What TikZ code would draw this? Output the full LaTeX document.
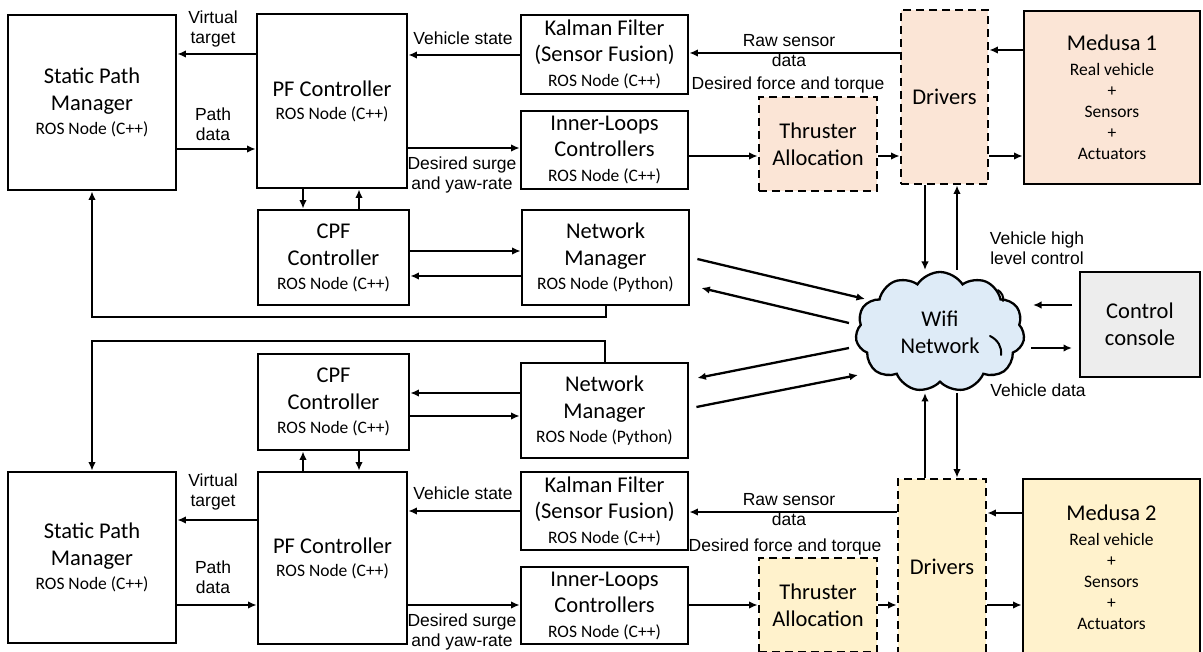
\documentclass[tikz,border=0pt]{standalone}
\usepackage{fontspec}
\setmainfont{Carlito}
\newfontfamily\labelfont{Liberation Sans}
\usetikzlibrary{arrows.meta,shapes.symbols,calc}

\definecolor{peach}{RGB}{251,229,214}
\definecolor{cream}{RGB}{255,242,204}
\definecolor{skyfill}{RGB}{222,235,247}
\definecolor{consolegrey}{RGB}{237,237,237}

% smaller second line inside the ROS boxes
\newcommand{\rosline}[1]{{\fontsize{17.5}{20}\selectfont #1}}

\tikzset{
  box/.style={draw, line width=2.8pt, align=center, inner sep=0pt,
              font=\fontsize{22.5}{27}\selectfont},
  sz/.style 2 args={minimum width=#1, minimum height=#2},
  dbox/.style={box, dash pattern=on 8pt off 5pt},
  arr/.style={line width=2.3pt, -{Latex[length=8.5pt,width=7.5pt]}},
  lab/.style={font=\labelfont\fontsize{17.5}{20}\selectfont, align=center, inner sep=0pt},
  puff/.style={line width=2pt, line cap=round},
}

\begin{document}
\begin{tikzpicture}[x=1pt,y=-1pt]
\useasboundingbox (0,0) rectangle (1203,652);
\clip (0,0) rectangle (1203,652);

% ---------------- vehicle 1 ----------------
\node[box, sz={168pt}{175pt}] (SPM1) at (92,102.5) {Static Path\\Manager\\[-3pt]\rosline{ROS Node (C++)}};
\node[box, sz={150pt}{174pt}] (PF1) at (332,101) {PF Controller\\[-4pt]\rosline{ROS Node (C++)}};
\node[box, sz={151pt}{95pt}] (CPF1) at (333.5,257.5) {CPF\\Controller\\[-3pt]\rosline{ROS Node (C++)}};
\node[box, sz={167pt}{79pt}] (Kal1) at (604.5,54.5) {Kalman Filter\\[-1pt](Sensor Fusion)\\[-2pt]\rosline{ROS Node (C++)}};
\node[box, sz={167pt}{78pt}] (IL1) at (604.5,150) {Inner-Loops\\[-1pt]Controllers\\[-2pt]\rosline{ROS Node (C++)}};
\node[box, sz={167pt}{95pt}] (NM1) at (605.5,257.5) {Network\\Manager\\[-3pt]\rosline{ROS Node (Python)}};
\node[dbox, fill=peach, sz={118pt}{94pt}] (TA1) at (818,144) {Thruster\\Allocation};
\node[dbox, fill=peach, sz={87pt}{174pt}] (Dr1) at (944.5,97) {Drivers};
\node[box, fill=peach, sz={176pt}{173pt}] (Med1) at (1112,97.5)
  {Medusa 1\\[-2pt]\rosline{Real vehicle}\\[-6pt]\rosline{+}\\[-6pt]\rosline{Sensors}\\[-6pt]\rosline{+}\\[-6pt]\rosline{Actuators}};

% ---------------- shared network ----------------
\node[cloud, draw, fill=skyfill, line width=2.3pt, cloud puffs=11, cloud puff arc=115, aspect=1.45,
      minimum width=169pt, minimum height=120pt, inner sep=0pt, align=center,
      font=\fontsize{22.5}{27}\selectfont] (wifi) at (940,332) {Wifi\\Network};
% inner crease lines of the cloud
\draw[puff] (990,336) .. controls (998,340) and (1002,347) .. (1001,355);
\draw[puff] (998,290) .. controls (1002,293) and (1004,297) .. (1003,301);
\node[box, fill=consolegrey, sz={120pt}{105pt}] (console) at (1140,324.5) {Control\\console};

% ---------------- vehicle 2 ----------------
\node[box, sz={151pt}{96pt}] (CPF2) at (333.5,402) {CPF\\Controller\\[-3pt]\rosline{ROS Node (C++)}};
\node[box, sz={167pt}{95pt}] (NM2) at (604.5,410.5) {Network\\Manager\\[-3pt]\rosline{ROS Node (Python)}};
\node[box, sz={168pt}{171pt}] (SPM2) at (92,557.5) {Static Path\\Manager\\[-3pt]\rosline{ROS Node (C++)}};
\node[box, sz={149pt}{172pt}] (PF2) at (332.5,558) {PF Controller\\[-4pt]\rosline{ROS Node (C++)}};
\node[box, sz={167pt}{78pt}] (Kal2) at (604.5,511) {Kalman Filter\\[-1pt](Sensor Fusion)\\[-2pt]\rosline{ROS Node (C++)}};
\node[box, sz={167pt}{77pt}] (IL2) at (604.5,605.5) {Inner-Loops\\[-1pt]Controllers\\[-2pt]\rosline{ROS Node (C++)}};
\node[dbox, fill=cream, sz={118pt}{94pt}] (TA2) at (818,605) {Thruster\\Allocation};
\node[dbox, fill=cream, sz={88pt}{176pt}] (Dr2) at (942,567) {Drivers};
\node[box, fill=cream, sz={177pt}{177pt}] (Med2) at (1111.5,567.5)
  {Medusa 2\\[-2pt]\rosline{Real vehicle}\\[-6pt]\rosline{+}\\[-6pt]\rosline{Sensors}\\[-6pt]\rosline{+}\\[-6pt]\rosline{Actuators}};

% ---------------- free ends around the cloud ----------------
\coordinate (c1in)  at (865,299);
\coordinate (c1out) at (849,323);
\coordinate (c2out) at (849,348);
\coordinate (c2in)  at (858,375);
\coordinate (n1out) at ($(NM1.east)+(7,1.5)$);
\coordinate (n1in)  at ($(NM1.east)+(11,30.5)$);
\coordinate (n2in)  at ($(NM2.east)+(8,-32.5)$);
\coordinate (n2out) at ($(NM2.east)+(7,-3.5)$);
\coordinate (wtA) at (925,270);
\coordinate (wtB) at (957,270);
\coordinate (wbA) at (925,393);
\coordinate (wbB) at (957,393);
\coordinate (kIn)  at (1072,305);
\coordinate (kTip) at (1033,305);
\coordinate (kOut) at (1031,348);
\coordinate (kEnd) at (1072,348);

% ---------------- connectors, vehicle 1 ----------------
\draw[arr] (PF1.west |- 0,54) -- (SPM1.east |- 0,54);
\draw[arr] (SPM1.east |- 0,149) -- (PF1.west |- 0,149);
\draw[arr] (Kal1.west |- 0,55) -- (PF1.east |- 0,55);
\draw[arr] (PF1.east |- 0,148) -- (IL1.west |- 0,148);
\draw[arr] (IL1.east |- 0,156) -- (TA1.west |- 0,156);
\draw[arr] (TA1.east |- 0,156) -- (Dr1.west |- 0,156);
\draw[arr] (Dr1.west |- 0,53) -- (Kal1.east |- 0,53);
\draw[arr] (Med1.west |- 0,50) -- (Dr1.east |- 0,50);
\draw[arr] (Dr1.east |- 0,156) -- (Med1.west |- 0,156);
\draw[arr] (PF1.south -| 303,0) -- (CPF1.north -| 303,0);
\draw[arr] (CPF1.north -| 359,0) -- (PF1.south -| 359,0);
\draw[arr] (CPF1.east |- 0,251) -- (NM1.west |- 0,251);
\draw[arr] (NM1.west |- 0,276) -- (CPF1.east |- 0,276);
\draw[arr] (NM1.south -| 606,0) -- ++(0,10.6) -| (SPM1.south);

% ---------------- connectors, network ----------------
\draw[arr] (n1out) -- (c1in);
\draw[arr] (c1out) -- (n1in);
\draw[arr] (c2out) -- (n2in);
\draw[arr] (n2out) -- (c2in);
\draw[arr] (Dr1.south -| wtA) -- (wtA);
\draw[arr] (wtB) -- (Dr1.south -| wtB);
\draw[arr] (Dr2.north -| wbA) -- (wbA);
\draw[arr] (wbB) -- (Dr2.north -| wbB);
\draw[arr] (kIn) -- (kTip);
\draw[arr] (kOut) -- (kEnd);

% ---------------- connectors, vehicle 2 ----------------
\draw[arr] (NM2.north -| 605,0) -- ++(0,-20.6) -| (SPM2.north);
\draw[arr] (NM2.west |- 0,393) -- (CPF2.east |- 0,393);
\draw[arr] (CPF2.east |- 0,416) -- (NM2.west |- 0,416);
\draw[arr] (PF2.north -| 303,0) -- (CPF2.south -| 303,0);
\draw[arr] (CPF2.south -| 359,0) -- (PF2.north -| 359,0);
\draw[arr] (PF2.west |- 0,520) -- (SPM2.east |- 0,520);
\draw[arr] (SPM2.east |- 0,605) -- (PF2.west |- 0,605);
\draw[arr] (Kal2.west |- 0,511) -- (PF2.east |- 0,511);
\draw[arr] (PF2.east |- 0,605) -- (IL2.west |- 0,605);
\draw[arr] (IL2.east |- 0,605) -- (TA2.west |- 0,605);
\draw[arr] (TA2.east |- 0,605) -- (Dr2.west |- 0,605);
\draw[arr] (Dr2.west |- 0,512) -- (Kal2.east |- 0,512);
\draw[arr] (Med2.west |- 0,513) -- (Dr2.east |- 0,513);
\draw[arr] (Dr2.east |- 0,605) -- (Med2.west |- 0,605);

% ---------------- connector labels ----------------
\node[lab] (vt1) at (213,29) {Virtual\\target};
\node[lab] (pd1) at (213,124) {Path\\data};
\node[lab] (vs1) at (463,38) {Vehicle state};
\node[lab] (ds1) at (462,175) {Desired surge\\and yaw-rate};
\node[lab] (rs1) at (789,51) {Raw sensor\\data};
\node[lab] (df1) at (788,85) {Desired force and torque};
\node[lab] (hl)  at (1037,248) {Vehicle high\\level control};
\node[lab] (vd)  at (1038,390) {Vehicle data};
\node[lab] (vt2) at (213,492) {Virtual\\target};
\node[lab] (pd2) at (213,577) {Path\\data};
\node[lab] (vs2) at (463,493) {Vehicle state};
\node[lab] (ds2) at (462,632) {Desired surge\\and yaw-rate};
\node[lab] (rs2) at (789,509.5) {Raw sensor\\data};
\node[lab] (df2) at (785,547) {Desired force and torque};
\end{tikzpicture}
\end{document}
